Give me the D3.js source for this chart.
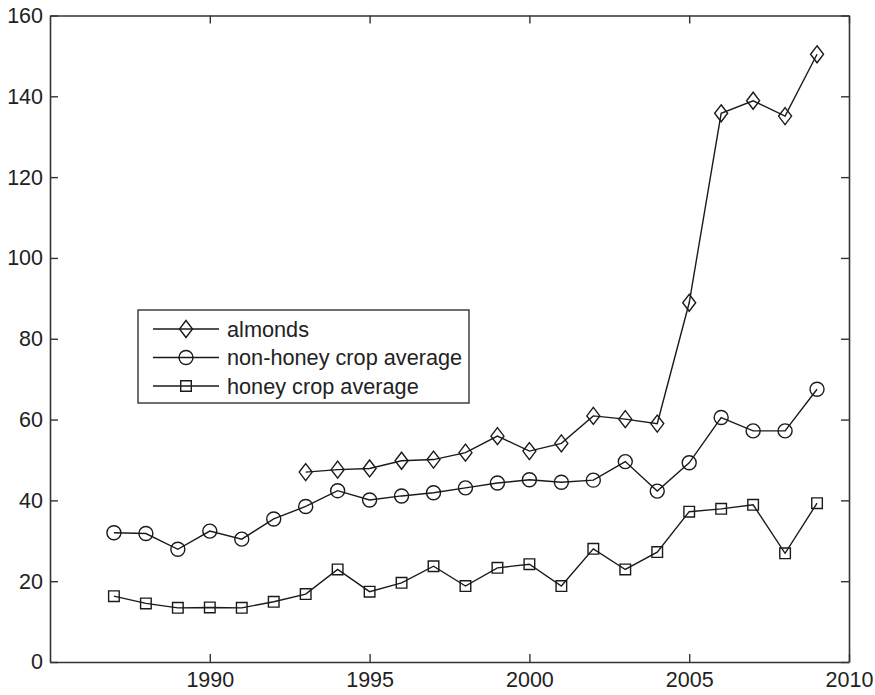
<!DOCTYPE html>
<html>
<head>
<meta charset="utf-8">
<script src="https://cdn.jsdelivr.net/npm/d3@7"></script>
<style>
  body { margin: 0; background: #fff; }
  text { font-family: "Liberation Sans", Arial, Helvetica, sans-serif; fill: #222; }
</style>
</head>
<body>
<div id="chart"></div>
<script>
// data
var almondYears = [1993, 1994, 1995, 1996, 1997, 1998, 1999, 2000, 2001, 2002, 2003, 2004, 2005, 2006, 2007, 2008, 2009];
var almonds = [47.0, 47.6, 47.9, 49.8, 50.1, 51.8, 55.9, 52.2, 54.1, 60.9, 60.1, 59.0, 88.9, 135.8, 138.9, 135.1, 150.4];

var cropYears = [1987, 1988, 1989, 1990, 1991, 1992, 1993, 1994, 1995, 1996, 1997, 1998, 1999, 2000, 2001, 2002, 2003, 2004, 2005, 2006, 2007, 2008, 2009];
var nonHoney = [32.0, 31.8, 27.9, 32.4, 30.4, 35.4, 38.5, 42.4, 40.1, 41.1, 41.9, 43.1, 44.3, 45.1, 44.5, 45.0, 49.6, 42.3, 49.3, 60.5, 57.2, 57.2, 67.5];
var honey = [16.3, 14.5, 13.4, 13.5, 13.4, 14.9, 16.8, 22.9, 17.4, 19.6, 23.7, 18.8, 23.3, 24.2, 18.8, 28.0, 22.9, 27.2, 37.2, 37.9, 38.9, 26.9, 39.3];

var xTicks = [1990, 1995, 2000, 2005, 2010];
var yTicks = [0, 20, 40, 60, 80, 100, 120, 140, 160];
var legendLabels = ["almonds", "non-honey crop average", "honey crop average"];

var svgWidth = 875;
var svgHeight = 695;
var axisColor = "#333";
var ink = "#1a1a1a";

var svg = d3.select("#chart")
  .append("svg")
  .attr("width", svgWidth)
  .attr("height", svgHeight);

var xScale = d3.scaleLinear().domain([1985, 2010]).range([50, 849]);
var yScale = d3.scaleLinear().domain([0, 160]).range([662, 15.5]);

// axes box + inward ticks (mirrored on top/right)
function styleAxis(g) {
  g.selectAll("path.domain").attr("stroke", axisColor).attr("stroke-width", 1.6);
  g.selectAll(".tick line").attr("stroke", axisColor).attr("stroke-width", 1.4);
  g.selectAll("text")
    .attr("fill", "#222")
    .style("font-size", "21.5px")
    .style("font-family", "'Liberation Sans', Arial, sans-serif");
}

svg.append("g")
  .attr("transform", "translate(0, 662)")
  .call(d3.axisBottom(xScale).tickValues(xTicks).tickFormat(d3.format("d"))
    .tickSizeInner(-8).tickSizeOuter(0).tickPadding(10))
  .call(styleAxis);

svg.append("g")
  .attr("transform", "translate(0, 15.5)")
  .call(d3.axisTop(xScale).tickValues(xTicks).tickFormat("")
    .tickSizeInner(-8).tickSizeOuter(0))
  .call(styleAxis);

svg.append("g")
  .attr("transform", "translate(50, 0)")
  .call(d3.axisLeft(yScale).tickValues(yTicks)
    .tickSizeInner(-8).tickSizeOuter(0).tickPadding(7))
  .call(styleAxis);

svg.append("g")
  .attr("transform", "translate(849, 0)")
  .call(d3.axisRight(yScale).tickValues(yTicks).tickFormat("")
    .tickSizeInner(-8).tickSizeOuter(0))
  .call(styleAxis);

// marker shapes
function markerPath(kind) {
  if (kind === "diamond") return "M0,-8.5L6.5,0L0,8.5L-6.5,0Z";
  if (kind === "square") return "M-5.3,-5.3H5.3V5.3H-5.3Z";
  return d3.arc()({innerRadius: 0, outerRadius: 7, startAngle: 0, endAngle: 2 * Math.PI});
}

var series = [
  {years: almondYears, values: almonds, marker: "diamond"},
  {years: cropYears, values: nonHoney, marker: "circle"},
  {years: cropYears, values: honey, marker: "square"}
];

var line = d3.line()
  .x(d => xScale(d[0]))
  .y(d => yScale(d[1]));

series.forEach(function(s) {
  var pts = s.years.map((y, i) => [y, s.values[i]]);
  svg.append("path")
    .datum(pts)
    .attr("d", line)
    .attr("fill", "none")
    .attr("stroke", ink)
    .attr("stroke-width", 1.4);

  svg.selectAll(null)
    .data(pts)
    .enter()
    .append("path")
    .attr("transform", d => `translate(${xScale(d[0])}, ${yScale(d[1])})`)
    .attr("d", markerPath(s.marker))
    .attr("fill", "none")
    .attr("stroke", ink)
    .attr("stroke-width", 1.4);
});

// legend
var legend = svg.append("g");
legend.append("rect")
  .attr("x", 138).attr("y", 310)
  .attr("width", 331).attr("height", 93)
  .attr("fill", "#fff")
  .attr("stroke", axisColor)
  .attr("stroke-width", 1.4);

series.forEach(function(s, i) {
  var ly = 329 + i * 28.5;
  legend.append("line")
    .attr("x1", 153).attr("x2", 219)
    .attr("y1", ly).attr("y2", ly)
    .attr("stroke", ink).attr("stroke-width", 1.4);
  legend.append("path")
    .attr("transform", `translate(186, ${ly})`)
    .attr("d", markerPath(s.marker))
    .attr("fill", "none")
    .attr("stroke", ink)
    .attr("stroke-width", 1.4);
  legend.append("text")
    .attr("x", 227)
    .attr("y", ly)
    .attr("dy", "0.35em")
    .style("font-size", "21.7px")
    .text(legendLabels[i]);
});
</script>
</body>
</html>
